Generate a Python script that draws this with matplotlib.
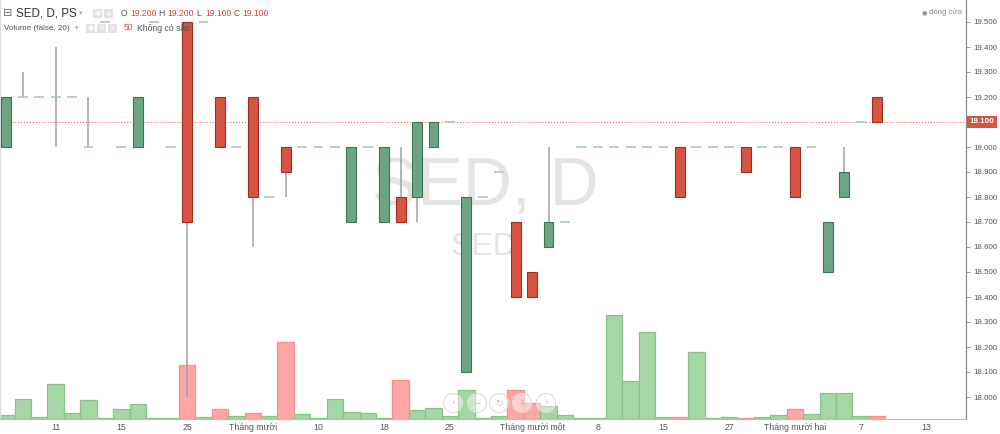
import numpy as np
import matplotlib
matplotlib.use("Agg")
from matplotlib import pyplot as plt
from matplotlib.patches import Circle, Rectangle
import matplotlib.transforms as mtransforms

plt.rcParams['font.family'] = ['Liberation Sans', 'DejaVu Sans']

# daily OHLC for SED (only days with trades)
opens = [19.0, 19.2, 19.2, 19.2, 19.2, 19.0, 19.5, 19.0, 19.0, 19.5,
         19.0, 19.5, 19.5, 19.2, 19.0, 19.2, 18.8, 19.0, 19.0, 19.0,
         19.0, 18.7, 19.0, 18.7, 18.8, 18.8, 19.0, 19.1, 18.1, 18.8,
         18.9, 18.7, 18.5, 18.6, 18.7, 19.0, 19.0, 19.0, 19.0, 19.0,
         19.0, 19.0, 19.0, 19.0, 19.0, 19.0, 19.0, 19.0, 19.0, 19.0,
         18.5, 18.8, 19.1, 19.2]
highs = [19.2, 19.3, 19.2, 19.4, 19.2, 19.2, 19.5, 19.0, 19.2, 19.5,
         19.0, 19.5, 19.5, 19.2, 19.0, 19.2, 18.8, 19.0, 19.0, 19.0,
         19.0, 19.0, 19.0, 19.0, 19.0, 19.1, 19.1, 19.1, 18.8, 18.8,
         18.9, 18.7, 18.5, 19.0, 18.7, 19.0, 19.0, 19.0, 19.0, 19.0,
         19.0, 19.0, 19.0, 19.0, 19.0, 19.0, 19.0, 19.0, 19.0, 19.0,
         18.7, 19.0, 19.1, 19.2]
lows = [19.0, 19.2, 19.2, 19.0, 19.2, 19.0, 19.5, 19.0, 19.0, 19.5,
        19.0, 18.0, 19.5, 19.0, 19.0, 18.6, 18.8, 18.8, 19.0, 19.0,
        19.0, 18.7, 19.0, 18.7, 18.7, 18.7, 19.0, 19.1, 18.1, 18.8,
        18.9, 18.4, 18.4, 18.6, 18.7, 19.0, 19.0, 19.0, 19.0, 19.0,
        19.0, 18.8, 19.0, 19.0, 19.0, 18.9, 19.0, 19.0, 18.8, 19.0,
        18.5, 18.8, 19.1, 19.1]
closes = [19.2, 19.2, 19.2, 19.2, 19.2, 19.0, 19.5, 19.0, 19.2, 19.5,
          19.0, 18.7, 19.5, 19.0, 19.0, 18.8, 18.8, 18.9, 19.0, 19.0,
          19.0, 19.0, 19.0, 19.0, 18.7, 19.1, 19.1, 19.1, 18.8, 18.8,
          18.9, 18.4, 18.4, 18.7, 18.7, 19.0, 19.0, 19.0, 19.0, 19.0,
          19.0, 18.8, 19.0, 19.0, 19.0, 18.9, 19.0, 19.0, 18.8, 19.0,
          18.7, 18.9, 19.1, 19.1]
volumes = [70, 390, 30, 690, 110, 370, 20, 190, 290, 10,
           10, 1080, 40, 190, 50, 110, 50, 1530, 90, 20,
           400, 130, 110, 20, 780, 180, 220, 50, 580, 10,
           50, 580, 310, 260, 70, 10, 10, 2070, 750, 1730,
           30, 30, 1330, 10, 30, 20, 30, 70, 190, 90,
           510, 510, 60, 50]

tick_pos = [3, 7, 11, 15, 19, 23, 27, 32, 36, 40, 44, 48, 52, 56]
tick_labels = ["11", "15", "25", "Tháng mười", "10", "18", "25", "Tháng mười một",
               "8", "15", "27", "Tháng mười hai", "7", "13"]
price_ticks = [18.0, 18.1, 18.2, 18.3, 18.4, 18.5, 18.6, 18.7, 18.8, 18.9,
               19.0, 19.2, 19.3, 19.4, 19.5]
last_price = 19.1

W, H = 1000, 434
fig = plt.figure(figsize=(W / 100, H / 100), dpi=100)
ax = fig.add_axes([0, 15.5 / H, 966 / W, 1 - 15.5 / H])
axp = ax.twinx()

x = np.arange(len(opens))
o = np.array(opens)
c = np.array(closes)
up = c >= o

# volume (behind)
vcol = np.where(up, '#a5d6a6', '#ffa6a6')
vedge = np.where(up, '#84c585', '#ff8c8c')
ax.bar(x, volumes, width=1.0, color=vcol, edgecolor=vedge, linewidth=0.9, zorder=2)
ax.set_ylim(0, 418.5 * 20)
ax.set_xlim(-0.383, 58.41)
ax.set_yticks([])

# watermark
ax.text(485 / 966, 1 - 187 / 418.5, "SED, D", transform=ax.transAxes, ha='center', va='center',
        fontsize=49, color='#e4e4e4', zorder=0)
ax.text(483 / 966, 1 - 247 / 418.5, "SED", transform=ax.transAxes, ha='center', va='center',
        fontsize=23, color='#e4e4e4', zorder=0)

# candles
doji = o == c
body_col = np.where(up, '#6ba583', '#d75442')
body_edge = np.where(up, '#3e7354', '#9c2f22')
axp.vlines(x, lows, highs, color='#a0a0a0', linewidth=1.1, zorder=2)
nd = ~doji
axp.bar(x[nd], np.abs(c - o)[nd], bottom=np.minimum(o, c)[nd], width=0.6,
        color=body_col[nd], edgecolor=body_edge[nd], linewidth=0.8, zorder=3)
axp.hlines(o[doji], x[doji] - 0.3, x[doji] + 0.3, color='#a6cdb8', linewidth=1.2, zorder=3)

axp.axhline(last_price, color='#ee6a5a', linestyle=':', linewidth=0.8, zorder=1)
axp.set_ylim(19.1 - 296.5 / 250, 19.1 + 122 / 250)
axp.set_yticks(price_ticks)
axp.yaxis.set_major_formatter(matplotlib.ticker.FormatStrFormatter('%.3f'))
axp.tick_params(axis='y', labelsize=5.7, labelcolor='#555555', color='#888888',
                length=3, width=0.6, pad=2)

trans = mtransforms.blended_transform_factory(axp.transAxes, axp.transData)
axp.text(1.004, last_price, "19.100", transform=trans, ha='left', va='center', fontsize=5.8,
         fontweight='bold', color='white', zorder=10,
         bbox=dict(boxstyle='square,pad=0.3', facecolor='#d75442', edgecolor='none'))

ax.set_xticks(tick_pos, tick_labels)
ax.tick_params(axis='x', labelsize=6.3, colors='#555555', length=0, pad=3)

for a in (ax, axp):
    a.spines['top'].set_visible(False)
    a.spines['left'].set_color('#dddddd')
    a.spines['right'].set_color('#888888')
    a.spines['bottom'].set_color('#bbbbbb')
    a.spines['left'].set_linewidth(0.8)
    a.spines['right'].set_linewidth(0.8)
    a.spines['bottom'].set_linewidth(0.8)
axp.patch.set_visible(False)


def ft(px, py, s, **kw):
    fig.text(px / W, 1 - py / H, s, va='center', **kw)


# legend line 1
ft(3, 13, "⊟", fontsize=8, color='#666666', family=['DejaVu Sans'])
ft(16, 13, "SED, D, PS", fontsize=8.4, color='#333333')
ft(79, 13, "▾", fontsize=5, color='#aaaaaa', family=['DejaVu Sans'])
for bx, g in ((93, "◉"), (104, "✲")):
    fig.patches.append(Rectangle((bx / W, 1 - 18 / H), 9 / W, 9 / H, transform=fig.transFigure,
                                 facecolor='#e2e2e2', edgecolor='none'))
    ft(bx + 4.5, 13.5, g, fontsize=5, color='white', ha='center', family=['DejaVu Sans'])
xx = 121
for lab, val in (("O", "19.200"), ("H", "19.200"), ("L", "19.100"), ("C", "19.100")):
    ft(xx, 13.5, lab, fontsize=6.2, color='#555555')
    ft(xx + 9, 13.5, val, fontsize=6.2, color='#e0413a')
    xx += 37.5

# legend line 2
ft(4, 28, "Volume (false, 20)", fontsize=5.9, color='#555555')
ft(75, 28, "▾", fontsize=5, color='#aaaaaa', family=['DejaVu Sans'])
for bx, g in ((86, "◉"), (97, "✲"), (108, "✕")):
    fig.patches.append(Rectangle((bx / W, 1 - 33 / H), 9 / W, 9 / H, transform=fig.transFigure,
                                 facecolor='#e2e2e2', edgecolor='none'))
    ft(bx + 4.5, 28.5, g, fontsize=5, color='white', ha='center', family=['DejaVu Sans'])
ft(124, 28, "50", fontsize=6.2, color='#e0413a')
ft(137, 28, "Không có sẵn", fontsize=6.2, color='#555555')

# top right
ft(924, 13, "●", fontsize=4.5, color='#999999', ha='center', family=['DejaVu Sans'])
ft(929, 12.5, "đóng cửa", fontsize=5.6, color='#888888')

# navigation buttons (drawn in inches so they stay round)
for bx, g in ((453, "‹"), (477, "−"), (499, "↻"), (522, "+"), (546, "›")):
    fig.patches.append(Circle((bx / 100, (H - 403) / 100), 0.095, transform=fig.dpi_scale_trans,
                              facecolor=(1, 1, 1, 0.45), edgecolor='#dcdcdc', linewidth=0.8))
    ft(bx, 403, g, fontsize=6.5, color='#bbbbbb', ha='center', family=['DejaVu Sans'])

fig.savefig("out.png", dpi=100)
